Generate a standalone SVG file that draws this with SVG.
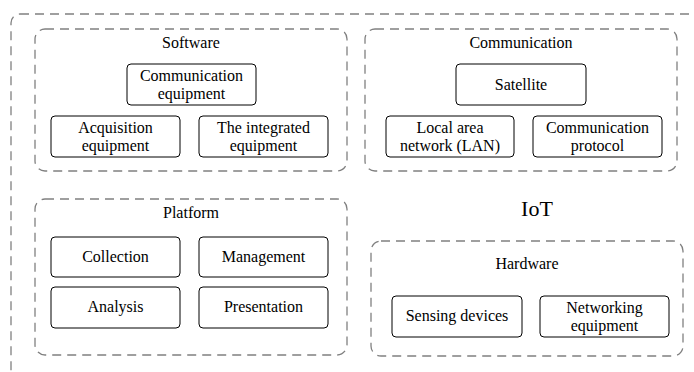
<svg xmlns="http://www.w3.org/2000/svg" width="694" height="372" viewBox="0 0 694 372">
<style>
.grp{fill:none;stroke:#808080;stroke-width:1.3;stroke-dasharray:9 6}
.box{fill:#fff;stroke:#000;stroke-width:1}
text{font-family:"Liberation Serif","Times New Roman",serif;font-size:16px;fill:#000;text-anchor:middle}
.big{font-size:22px}
</style>
<rect width="694" height="372" fill="#fff"/>
<g id="iot">
<rect class="grp" x="11" y="14" width="700" height="366" rx="9"/>
<text class="big" x="537" y="216">IoT</text>
</g>
<g id="software">
<rect class="grp" x="35" y="29" width="312" height="142" rx="10"/>
<text x="191" y="48">Software</text>
</g>
<g id="comm-equip">
<rect class="box" x="127" y="64" width="129" height="41" rx="4"/>
<text x="191.5" y="81">Communication</text>
<text x="191.5" y="99">equipment</text>
</g>
<g id="acq-equip">
<rect class="box" x="51" y="116" width="129" height="41" rx="4"/>
<text x="115.5" y="133">Acquisition</text>
<text x="115.5" y="151">equipment</text>
</g>
<g id="int-equip">
<rect class="box" x="199" y="116" width="129" height="41" rx="4"/>
<text x="263.5" y="133">The integrated</text>
<text x="263.5" y="151">equipment</text>
</g>
<g id="communication">
<rect class="grp" x="365" y="29" width="312" height="142" rx="10"/>
<text x="521" y="48">Communication</text>
</g>
<g id="satellite">
<rect class="box" x="456" y="64" width="130" height="41" rx="4"/>
<text x="521" y="90">Satellite</text>
</g>
<g id="lan">
<rect class="box" x="386" y="116" width="128" height="41" rx="4"/>
<text x="450" y="133">Local area</text>
<text x="450" y="151">network (LAN)</text>
</g>
<g id="protocol">
<rect class="box" x="533" y="116" width="129" height="41" rx="4"/>
<text x="597.5" y="133">Communication</text>
<text x="597.5" y="151">protocol</text>
</g>
<g id="platform">
<rect class="grp" x="35" y="199" width="312" height="156" rx="10"/>
<text x="191" y="218">Platform</text>
</g>
<g id="collection">
<rect class="box" x="51" y="237" width="129" height="40" rx="4"/>
<text x="115.5" y="262">Collection</text>
</g>
<g id="management">
<rect class="box" x="199" y="237" width="129" height="40" rx="4"/>
<text x="263.5" y="262">Management</text>
</g>
<g id="analysis">
<rect class="box" x="51" y="287" width="129" height="41" rx="4"/>
<text x="115.5" y="312">Analysis</text>
</g>
<g id="presentation">
<rect class="box" x="199" y="287" width="129" height="41" rx="4"/>
<text x="263.5" y="312">Presentation</text>
</g>
<g id="hardware">
<rect class="grp" x="371" y="241" width="312" height="115" rx="10"/>
<text x="527" y="269">Hardware</text>
</g>
<g id="sensing">
<rect class="box" x="392" y="296" width="130" height="41" rx="4"/>
<text x="457" y="321">Sensing devices</text>
</g>
<g id="networking">
<rect class="box" x="540" y="296" width="129" height="41" rx="4"/>
<text x="604.5" y="313">Networking</text>
<text x="604.5" y="331">equipment</text>
</g>
<g id="connectors"></g>
</svg>
